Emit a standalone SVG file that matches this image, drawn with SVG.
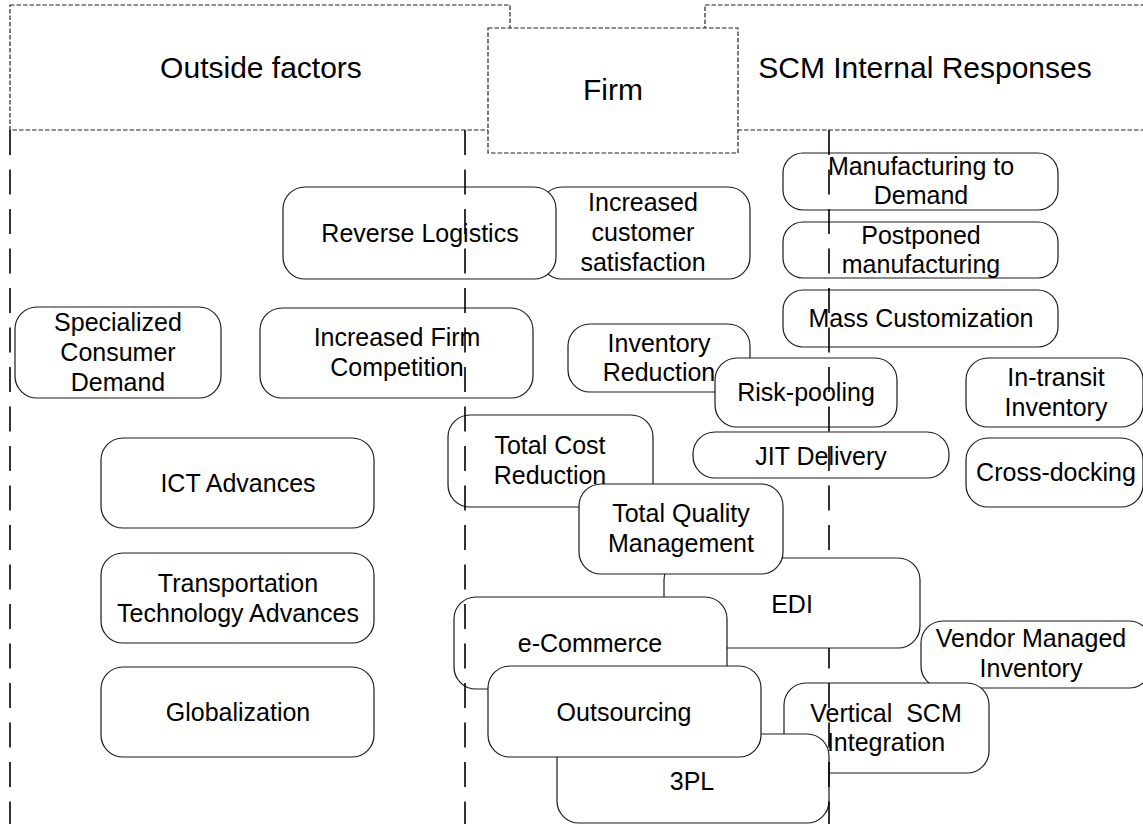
<svg xmlns="http://www.w3.org/2000/svg" width="1143" height="824" viewBox="0 0 1143 824">
<style>
.hdr{fill:#fff;stroke:#222;stroke-width:1.2;stroke-dasharray:4.5 2}
.nd{fill:#fff;stroke:#1a1a1a;stroke-width:1.2}
.lane{stroke:#000;stroke-width:1.6;stroke-dasharray:25 14.5;fill:none}
text{font-family:"Liberation Sans",Arial,sans-serif;font-size:25px;fill:#000;text-anchor:middle}
.ht{font-size:30px}
</style>
<rect width="1143" height="824" fill="#fff"/>
<g id="hdr-outside"><rect class="hdr" x="10" y="5" width="500" height="125"/><text class="ht" x="261" y="78">Outside factors</text></g>
<g id="hdr-scm"><rect class="hdr" x="705" y="5" width="450" height="125"/><text class="ht" x="925" y="78">SCM Internal Responses</text></g>
<g id="hdr-firm"><rect class="hdr" x="488" y="28" width="250" height="125"/><text class="ht" x="613" y="100">Firm</text></g>

<g id="n-ics"><rect class="nd" x="540" y="187" width="210" height="92" rx="22"/><text x="643" y="211">Increased</text><text x="643" y="241">customer</text><text x="643" y="271">satisfaction</text></g>
<g id="n-rl"><rect class="nd" x="283" y="187" width="273" height="92" rx="22"/><text x="420" y="242">Reverse Logistics</text></g>
<g id="n-ifc"><rect class="nd" x="260" y="308" width="273" height="90" rx="22"/><text x="397" y="346">Increased Firm</text><text x="397" y="376">Competition</text></g>
<g id="n-scd"><rect class="nd" x="15" y="307" width="206" height="91" rx="22"/><text x="118" y="331">Specialized</text><text x="118" y="361">Consumer</text><text x="118" y="391">Demand</text></g>
<g id="n-ict"><rect class="nd" x="101" y="438" width="273" height="90" rx="22"/><text x="238" y="492">ICT Advances</text></g>
<g id="n-tta"><rect class="nd" x="101" y="553" width="273" height="90" rx="22"/><text x="238" y="592">Transportation</text><text x="238" y="622">Technology Advances</text></g>
<g id="n-glob"><rect class="nd" x="101" y="667" width="273" height="90" rx="22"/><text x="238" y="721">Globalization</text></g>
<g id="n-mtd"><rect class="nd" x="783" y="153" width="275" height="57" rx="20"/><text x="921" y="175">Manufacturing to</text><text x="921" y="204">Demand</text></g>
<g id="n-pm"><rect class="nd" x="783" y="222" width="275" height="56" rx="20"/><text x="921" y="244">Postponed</text><text x="921" y="273">manufacturing</text></g>
<g id="n-mc"><rect class="nd" x="783" y="290" width="275" height="57" rx="20"/><text x="921" y="327">Mass Customization</text></g>
<g id="n-ir"><rect class="nd" x="568" y="324" width="182" height="68" rx="22"/><text x="659" y="352">Inventory</text><text x="659" y="381">Reduction</text></g>
<g id="n-rp"><rect class="nd" x="715" y="358" width="182" height="69" rx="22"/><text x="806" y="401">Risk-pooling</text></g>
<g id="n-jit"><rect class="nd" x="693" y="432" width="256" height="46" rx="22"/><text x="821" y="465">JIT Delivery</text></g>
<g id="n-iti"><rect class="nd" x="966" y="358" width="177" height="69" rx="22"/><text x="1056" y="386">In-transit</text><text x="1056" y="416">Inventory</text></g>
<g id="n-cd"><rect class="nd" x="966" y="438" width="177" height="69" rx="22"/><text x="1056" y="481">Cross-docking</text></g>
<g id="n-tcr"><rect class="nd" x="448" y="415" width="205" height="92" rx="22"/><text x="550" y="454">Total Cost</text><text x="550" y="484">Reduction</text></g>
<g id="n-edi"><rect class="nd" x="664" y="558" width="256" height="90" rx="22"/><text x="792" y="613">EDI</text></g>
<g id="n-tqm"><rect class="nd" x="579" y="484" width="204" height="90" rx="22"/><text x="681" y="522">Total Quality</text><text x="681" y="552">Management</text></g>
<g id="n-ecom"><rect class="nd" x="454" y="597" width="273" height="92" rx="22"/><text x="590" y="652">e-Commerce</text></g>
<g id="n-vmi"><rect class="nd" x="921" y="621" width="230" height="67" rx="22"/><text x="1031" y="647">Vendor Managed</text><text x="1031" y="677">Inventory</text></g>
<g id="n-vscm"><rect class="nd" x="784" y="683" width="205" height="90" rx="22"/><text x="886" y="722" style="white-space:pre">Vertical  SCM</text><text x="886" y="751">Integration</text></g>
<g id="n-3pl"><rect class="nd" x="557" y="734" width="272" height="89" rx="22"/><text x="692" y="790">3PL</text></g>
<g id="n-out"><rect class="nd" x="488" y="666" width="273" height="91" rx="22"/><text x="624" y="721">Outsourcing</text></g>

<g id="lanes">
<line class="lane" x1="10" y1="130" x2="10" y2="824"/>
<line class="lane" x1="465" y1="130" x2="465" y2="824"/>
<line class="lane" x1="829" y1="130" x2="829" y2="558"/>
<line class="lane" x1="829" y1="648" x2="829" y2="824" stroke-dashoffset="4.5"/>
</g>
</svg>
